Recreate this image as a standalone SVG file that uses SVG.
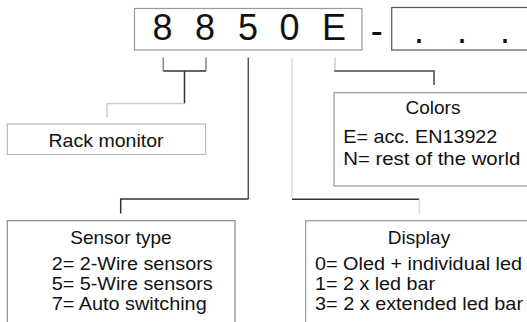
<svg xmlns="http://www.w3.org/2000/svg" width="527" height="322" viewBox="0 0 527 322">
<style>
text{font-family:"Liberation Sans",Arial,sans-serif;fill:#111}
.big{font-size:36px;text-anchor:middle}
.t{font-size:19px}
.s{font-size:17.5px}
.c{text-anchor:middle}
.box{fill:#fff;stroke:#999;stroke-width:1.2}
.ln{fill:none;stroke-width:1.5}
</style>
<rect width="527" height="322" fill="#fff"/>
<g id="code">
<rect class="box" x="134.5" y="8.5" width="227.5" height="41.5"/>
<text class="big" x="162.5" y="39.5">8</text>
<text class="big" x="205" y="39.5">8</text>
<text class="big" x="248" y="39.5">5</text>
<text class="big" x="289.5" y="39.5">0</text>
<text class="big" x="334" y="39.5">E</text>
<text class="big" x="376.7" y="43">-</text>
</g>
<g id="suffix">
<rect class="box" x="391.7" y="7.5" width="150" height="42.5" style="stroke:#555"/>
<text class="big" x="419" y="43">.</text>
<text class="big" x="462" y="43">.</text>
<text class="big" x="505" y="43">.</text>
</g>
<g id="connectors">
<path class="ln" d="M163.3 57.5V71M206 57.5V71" stroke="#888"/>
<path class="ln" d="M163.3 71H206M184.5 71V103.5" stroke="#333"/>
<path class="ln" d="M184.5 103.5H107V117" stroke="#ccc"/>
<path class="ln" d="M248.3 57.5V199" stroke="#555"/>
<path class="ln" d="M248.3 199H120.7V213.5" stroke="#333"/>
<path class="ln" d="M292 57.5V199.3" stroke="#ddd"/>
<path class="ln" d="M292 199.3H419.3" stroke="#333"/>
<path class="ln" d="M419.3 199.3V213.5" stroke="#ddd"/>
<path class="ln" d="M335 57.5V71" stroke="#ccc"/>
<path class="ln" d="M334.3 71H434V85" stroke="#444"/>
</g>
<g id="rack">
<rect class="box" x="7.3" y="124" width="198.2" height="30.5" style="stroke:#bbb"/>
<text class="t c" x="106" y="146.5" textLength="115" lengthAdjust="spacingAndGlyphs">Rack monitor</text>
</g>
<g id="colors">
<rect class="box" x="334" y="92.7" width="200" height="93.3" style="stroke:#999"/>
<text class="t c" x="433" y="114">Colors</text>
<text class="t" x="343.3" y="143.3" textLength="154" lengthAdjust="spacingAndGlyphs">E= acc. EN13922</text>
<text class="t" x="343.3" y="164.5" textLength="177" lengthAdjust="spacingAndGlyphs">N= rest of the world</text>
</g>
<g id="sensor">
<rect class="box" x="7.3" y="220.7" width="227.7" height="110" style="stroke:#888"/>
<text class="t c" x="121" y="244">Sensor type</text>
<text class="s" x="51.7" y="269.5" textLength="161" lengthAdjust="spacingAndGlyphs">2= 2-Wire sensors</text>
<text class="s" x="51.7" y="289.5" textLength="161" lengthAdjust="spacingAndGlyphs">5= 5-Wire sensors</text>
<text class="s" x="51.7" y="309.5" textLength="155" lengthAdjust="spacingAndGlyphs">7= Auto switching</text>
</g>
<g id="display">
<rect class="box" x="305.7" y="220.7" width="230" height="110" style="stroke:#999"/>
<text class="t c" x="419" y="244">Display</text>
<text class="s" x="315" y="269.5" textLength="207" lengthAdjust="spacingAndGlyphs">0= Oled + individual led</text>
<text class="s" x="315" y="289.5" textLength="120" lengthAdjust="spacingAndGlyphs">1= 2 x led bar</text>
<text class="s" x="315" y="309.5" textLength="208" lengthAdjust="spacingAndGlyphs">3= 2 x extended led bar</text>
</g>
</svg>
